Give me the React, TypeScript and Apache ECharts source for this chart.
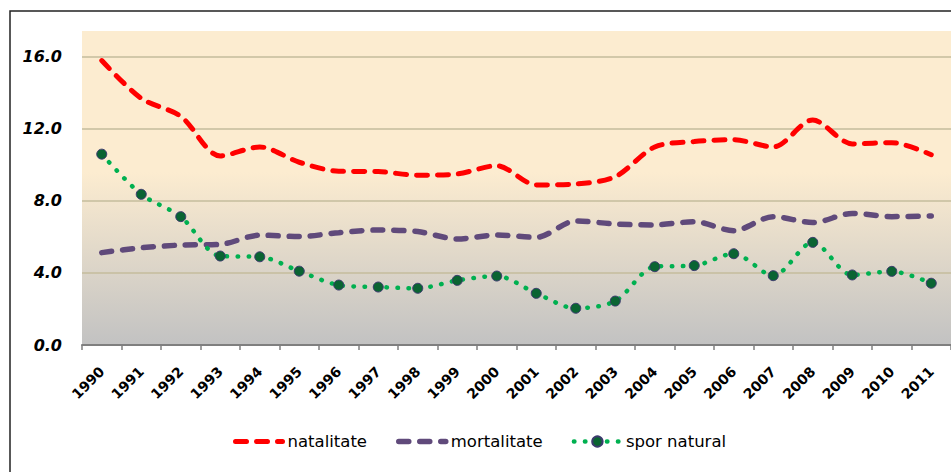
import React, { useEffect, useRef } from "react";
import * as echarts from "echarts";

const years = ["1990","1991","1992","1993","1994","1995","1996","1997","1998","1999","2000","2001","2002","2003","2004","2005","2006","2007","2008","2009","2010","2011"];
const natalitate = [15.8,13.7,12.7,10.5,11.0,10.15,9.65,9.63,9.43,9.5,9.96,8.89,8.94,9.35,11.0,11.3,11.4,11.0,12.5,11.17,11.24,10.57];
const mortalitate = [5.13,5.4,5.55,5.59,6.1,6.02,6.24,6.39,6.3,5.89,6.11,5.98,6.89,6.72,6.67,6.85,6.35,7.13,6.8,7.31,7.13,7.17];
const sporNatural = [10.6,8.37,7.13,4.94,4.9,4.1,3.33,3.22,3.15,3.59,3.83,2.87,2.04,2.44,4.35,4.41,5.07,3.85,5.7,3.89,4.09,3.43];
const yTicks = [0, 4, 8, 12, 16];

export default function App() {
  const ref = useRef<HTMLDivElement>(null);
  useEffect(() => {
    if (!ref.current) return;
    const chart = echarts.init(ref.current, null, { renderer: "svg" });
    const font = "'DejaVu Sans', Verdana, sans-serif";
    const redLine = { color: "#ff0000", width: 5, type: [11, 10], cap: "round" };
    const purpleLine = { color: "#604a7b", width: 5.5, type: [10, 11], cap: "round" };
    const greenLine = { color: "#00b050", width: 4.5, type: [0.5, 10.5], cap: "round" };
    chart.setOption({
      animation: false,
      graphic: [
        {
          type: "rect",
          shape: { x: 10, y: 11, width: 960, height: 480 },
          style: { fill: "none", stroke: "#222", lineWidth: 1.5 },
          z: 0,
        },
      ],
      legend: {
        left: 228,
        top: 428,
        itemWidth: 47,
        itemHeight: 13,
        itemGap: 29,
        textStyle: { fontFamily: font, fontSize: 16.5, color: "#000" },
        data: [
          { name: "natalitate", itemStyle: { opacity: 0 }, lineStyle: redLine },
          { name: "mortalitate", itemStyle: { opacity: 0 }, lineStyle: purpleLine },
          { name: "spor natural", lineStyle: greenLine },
        ],
      },
      grid: {
        left: 82,
        top: 31,
        width: 875,
        height: 314,
        show: true,
        borderWidth: 0,
        backgroundColor: new echarts.graphic.LinearGradient(0, 0, 0, 1, [
          { offset: 0, color: "#fcecd0" },
          { offset: 0.45, color: "#fcecd0" },
          { offset: 1, color: "#c2c2c2" },
        ]),
      },
      xAxis: {
        type: "category",
        data: years,
        boundaryGap: true,
        axisLine: { show: true, lineStyle: { color: "#7f7f7f", width: 2 } },
        axisTick: { show: true, length: 5, lineStyle: { color: "#7f7f7f", width: 1.5 } },
        axisLabel: {
          rotate: 45,
          margin: 24,
          fontFamily: font,
          fontWeight: "bold",
          fontSize: 14,
          color: "#000",
        },
        splitLine: { show: false },
      },
      yAxis: {
        type: "value",
        min: 0,
        max: 17.44,
        interval: 4,
        axisLine: { show: false },
        axisTick: { show: false },
        axisLabel: {
          margin: 20,
          showMaxLabel: false,
          fontFamily: font,
          fontWeight: "bold",
          fontStyle: "italic",
          fontSize: 16,
          color: "#000",
          formatter: (v: number) => (yTicks.indexOf(v) >= 0 ? v.toFixed(1) : ""),
        },
        splitLine: {
          show: true,
          showMinLine: false,
          showMaxLine: false,
          lineStyle: { color: "#c4bc9c", width: 1.5 },
        },
      },
      series: [
        {
          name: "natalitate",
          type: "line",
          data: natalitate,
          smooth: 0.3,
          symbol: "none",
          itemStyle: { color: "#ff0000" },
          lineStyle: redLine,
          z: 3,
        },
        {
          name: "mortalitate",
          type: "line",
          data: mortalitate,
          smooth: 0.3,
          symbol: "none",
          itemStyle: { color: "#604a7b" },
          lineStyle: purpleLine,
          z: 3,
        },
        {
          name: "spor natural",
          type: "line",
          data: sporNatural,
          smooth: 0.3,
          symbol: "circle",
          symbolSize: 10,
          itemStyle: { color: "#0a6432", borderColor: "#3c3a6e", borderWidth: 1 },
          lineStyle: greenLine,
          z: 4,
        },
      ],
    });
    return () => chart.dispose();
  }, []);
  return (
    <div
      ref={ref}
      style={{ position: "fixed", left: 0, top: 0, width: 951, height: 472, background: "#fff" }}
    />
  );
}
